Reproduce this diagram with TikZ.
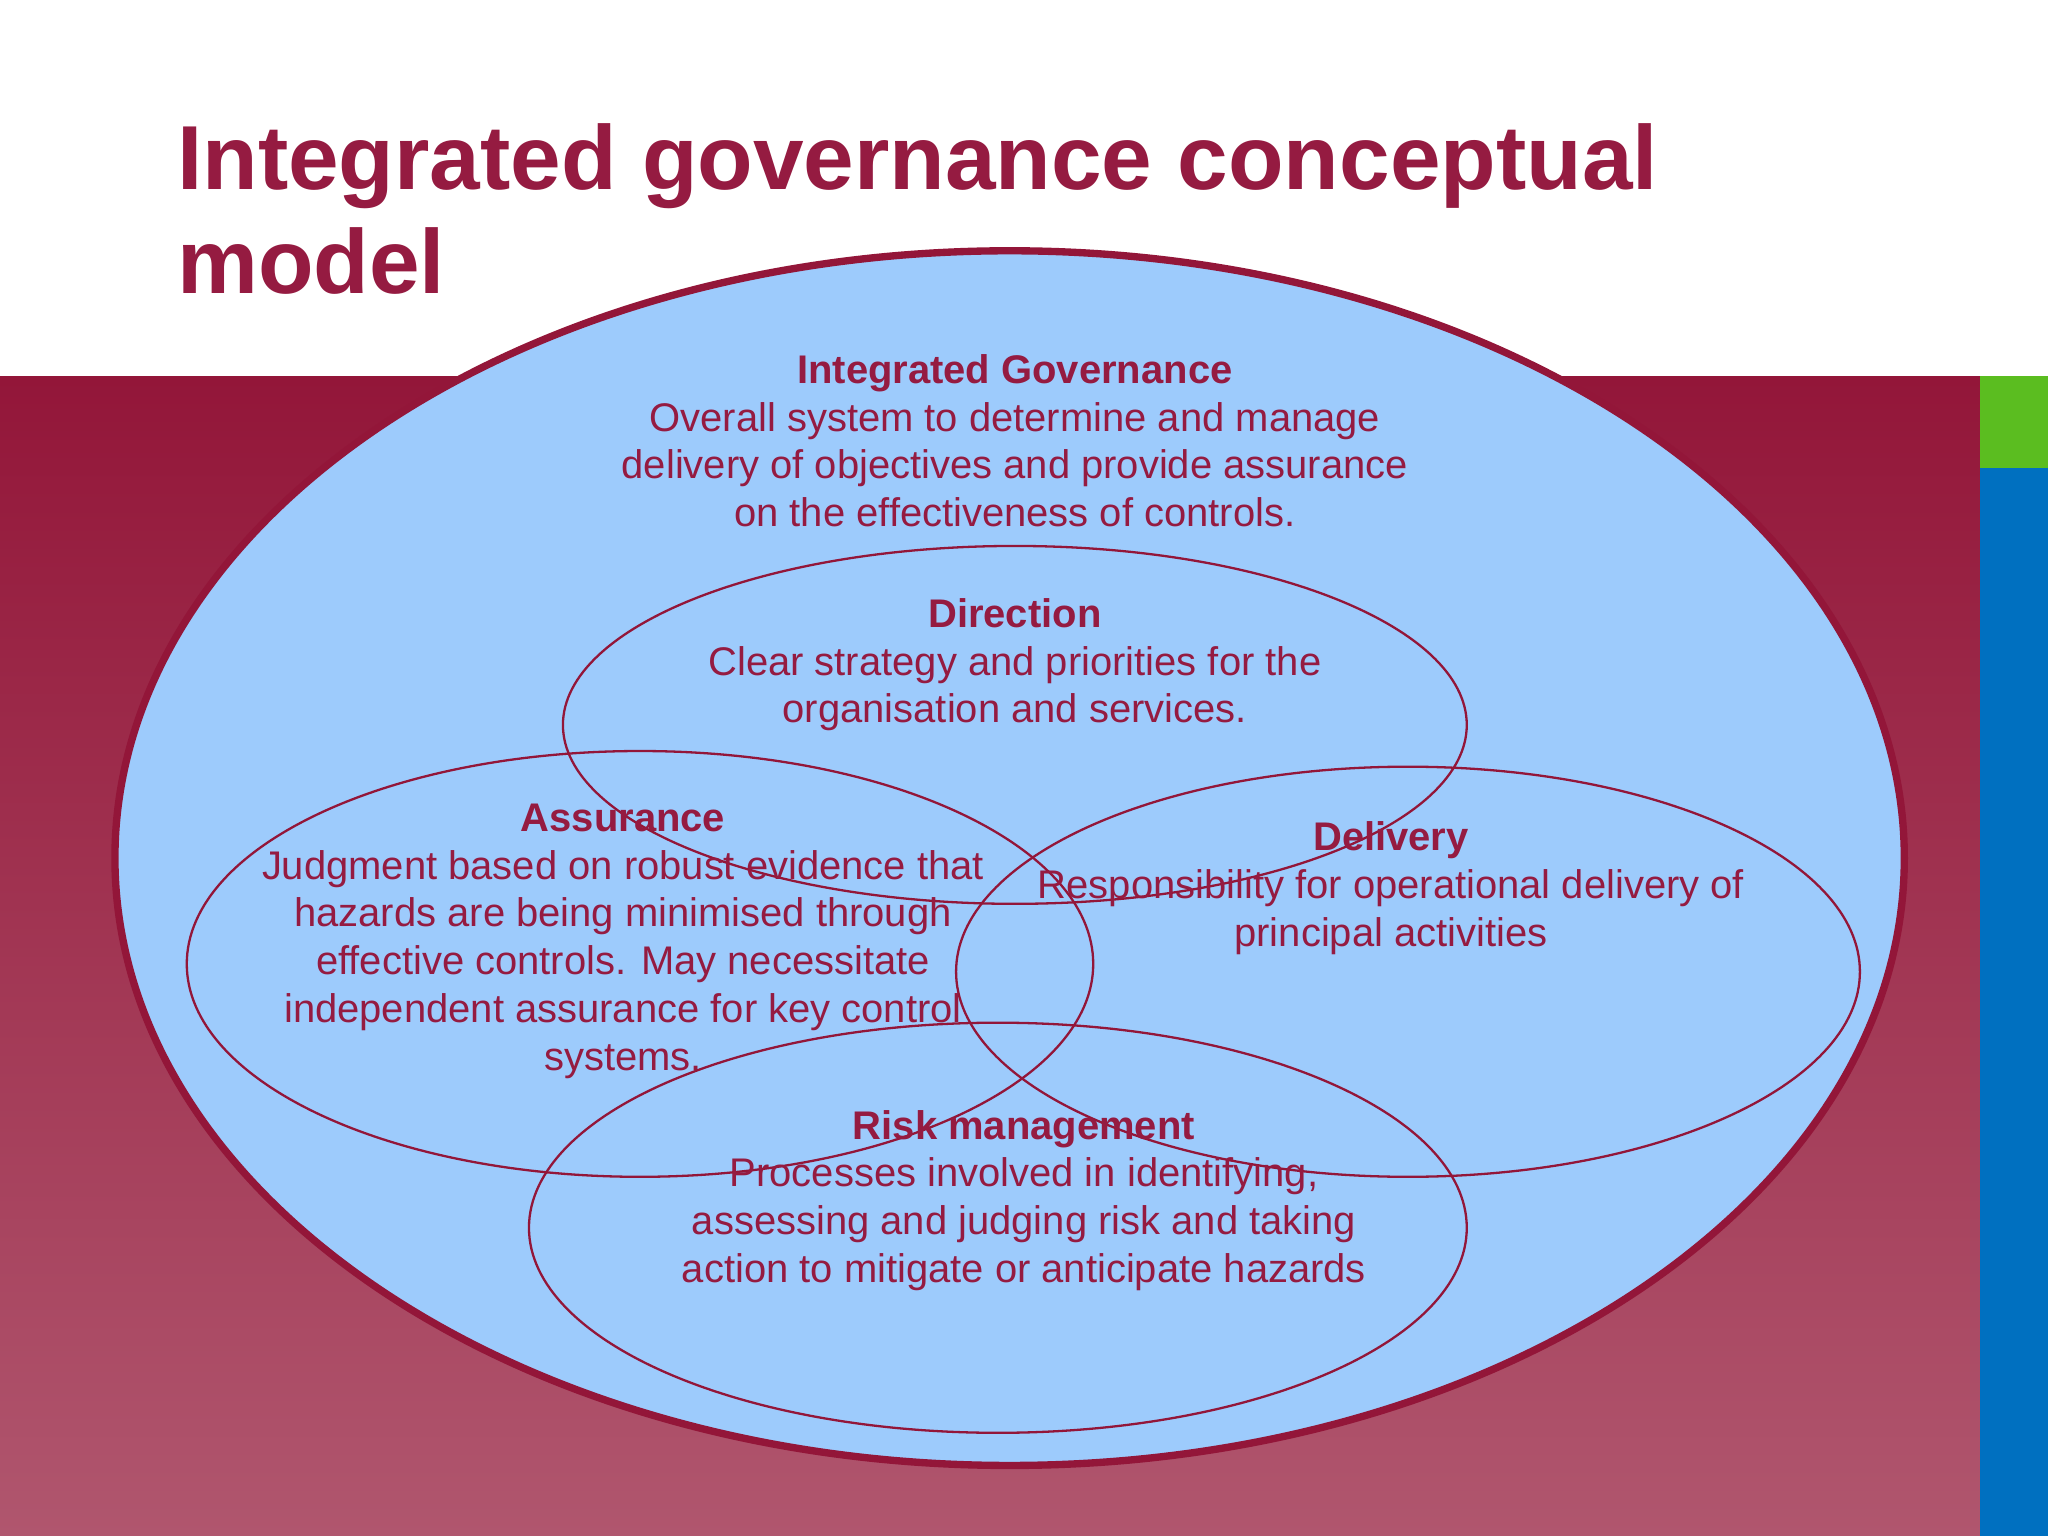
\documentclass[tikz,border=0pt]{standalone}
\usepackage{fontspec}
\setmainfont{Liberation Sans}
\definecolor{wine}{HTML}{931639}
\definecolor{winelight}{HTML}{B0566E}
\definecolor{txt}{HTML}{951B41}
\definecolor{sky}{HTML}{9DCBFC}
\definecolor{grn}{HTML}{5BBD20}
\definecolor{blu}{HTML}{0070C0}
\tikzset{
  body/.style={font=\fontsize{8.7pt}{10.4pt}\selectfont, text=txt, align=center, inner sep=0pt},
  inner/.style={draw=wine, line width=0.5pt},
}
\begin{document}
\begin{tikzpicture}[x=0.01cm,y=-0.01cm]
\useasboundingbox (0,0) rectangle (1568,1176);
\fill[white] (0,0) rectangle (1568,1176);
\shade[top color=wine, bottom color=winelight] (0,288) rectangle (1516,1176);
\fill[grn] (1516,288) rectangle (1568,358);
\fill[blu] (1516,358) rectangle (1568,1176);
\node[anchor=base west, font=\fontsize{19.8pt}{22.8pt}\selectfont\bfseries, text=txt, align=left, inner sep=0pt] (title) at (135,225) {Integrated governance conceptual\\model};
\draw[fill=sky, draw=wine, line width=1.6pt] (773,657) ellipse [x radius=685, y radius=465];
\draw[inner] (777,555) ellipse [x radius=346, y radius=137];
\draw[inner] (490,738) ellipse [x radius=347, y radius=163];
\draw[inner] (1078,744) ellipse [x radius=346, y radius=157];
\draw[inner] (764,940) ellipse [x radius=359, y radius=157];
\node[body] (ig) at (777,337.5) {\textbf{Integrated Governance}\\Overall system to determine and manage\\delivery of objectives and provide assurance\\on the effectiveness of controls.};
\node[body] (dir) at (777,509) {\textbf{Direction}\\Clear strategy and priorities for the\\organisation and services.};
\node[body] (ass) at (477,720.5) {\textbf{Assurance}\\Judgment based on robust evidence that\\hazards are being minimised through\\effective controls. May necessitate\\independent assurance for key control\\systems.};
\node[body] (del) at (1065,680) {\textbf{Delivery}\\Responsibility for operational delivery of\\principal activities};
\node[body] (risk) at (784,919) {\textbf{Risk management}\\Processes involved in identifying,\\assessing and judging risk and taking\\action to mitigate or anticipate hazards};
\end{tikzpicture}
\end{document}
